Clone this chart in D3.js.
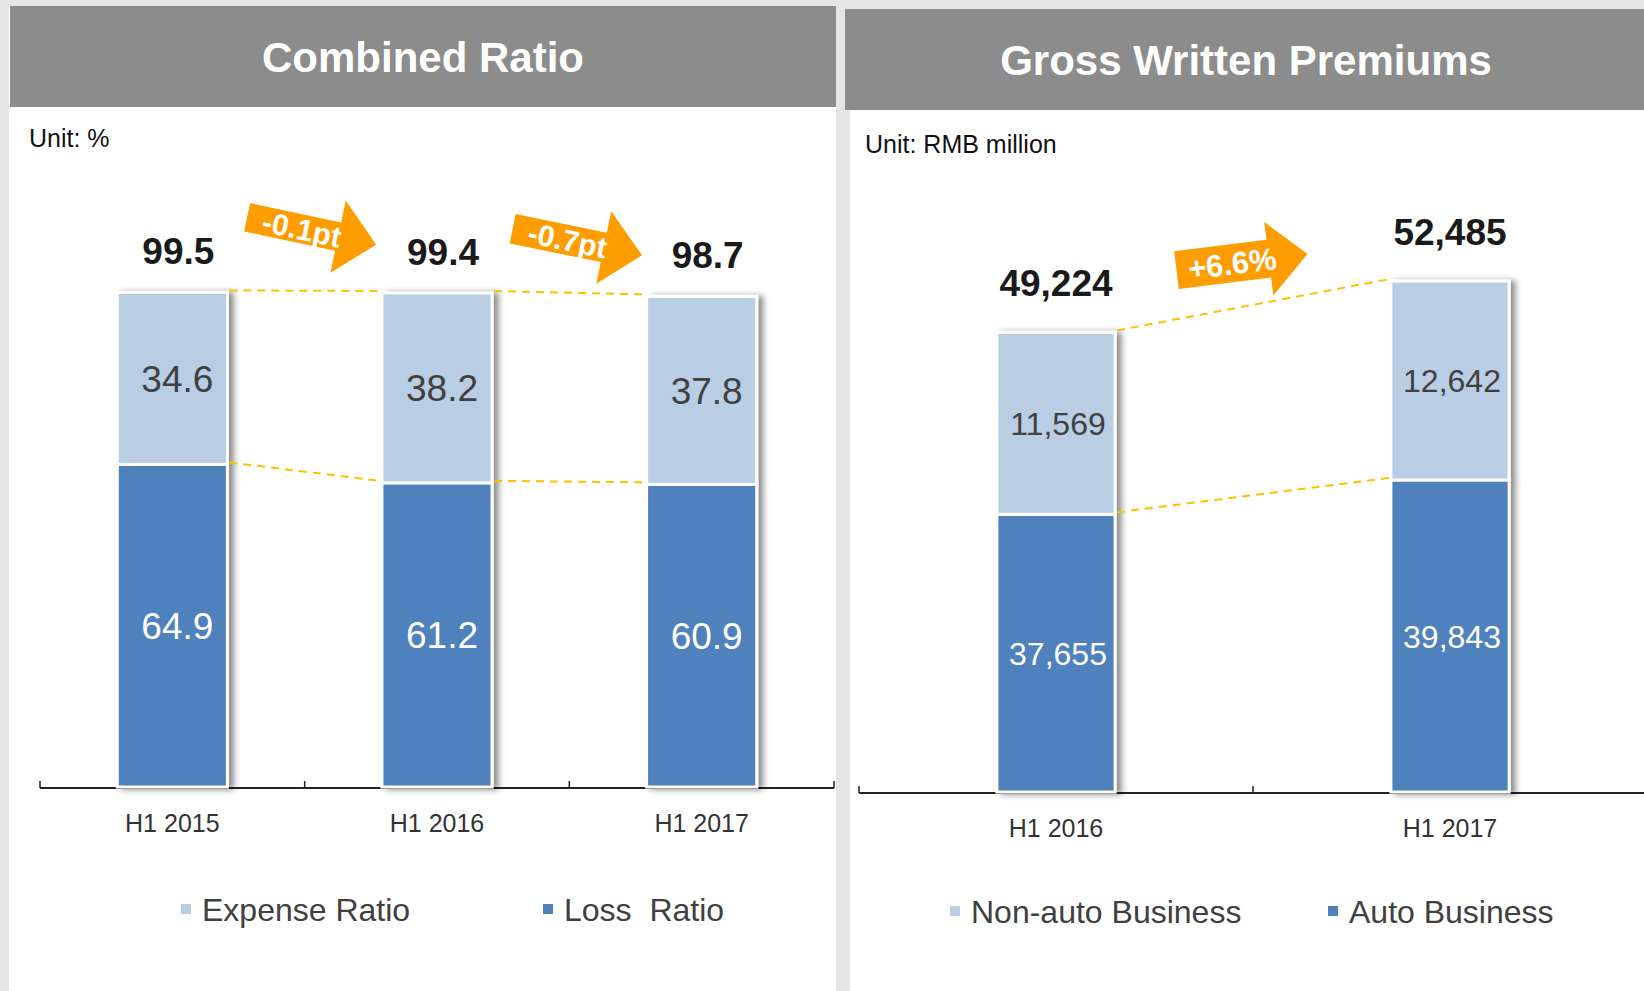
<!DOCTYPE html>
<html>
<head>
<meta charset="utf-8">
<script src="https://cdn.jsdelivr.net/npm/d3@7"></script>
<style>
  body { margin: 0; background: #e5e5e5; }
  svg { display: block; font-family: "Liberation Sans", Arial, sans-serif; }
</style>
</head>
<body>
<svg id="chart" width="1644" height="991"></svg>
<script>
// combined ratio data
var crCategories = ["H1 2015", "H1 2016", "H1 2017"];
var crExpense = [34.6, 38.2, 37.8];
var crLoss = [64.9, 61.2, 60.9];
var crTotals = [99.5, 99.4, 98.7];
var crChanges = ["-0.1pt", "-0.7pt"];

// gross written premiums data
var gwpCategories = ["H1 2016", "H1 2017"];
var gwpNonAuto = [11569, 12642];
var gwpAuto = [37655, 39843];
var gwpTotals = [49224, 52485];
var gwpChanges = ["+6.6%"];

var lightBlue = "#b9cde5", darkBlue = "#4f81bd", orange = "#ff9c00", dashColor = "#ffc000";

var svg = d3.select("#chart");

// shadow filter for bars
var defs = svg.append("defs");
var f = defs.append("filter").attr("id", "shadow").attr("x", "-20%").attr("y", "-10%").attr("width", "150%").attr("height", "130%");
f.append("feDropShadow").attr("dx", 5).attr("dy", 1).attr("stdDeviation", 3)
  .attr("flood-color", "#000").attr("flood-opacity", 0.45);

function drawPanel(p) {
  var g = svg.append("g");

  // panel + header
  g.append("rect").attr("x", p.panelX).attr("y", p.headerY).attr("width", p.panelW).attr("height", 991 - p.headerY).attr("fill", "#fff");
  g.append("rect").attr("x", p.headerX).attr("y", p.headerY).attr("width", p.headerW).attr("height", p.headerH).attr("fill", "#8c8c8c");
  g.append("text").attr("x", p.titleX).attr("y", p.headerY + p.headerH / 2 + 15)
    .attr("text-anchor", "middle").attr("fill", "#fff").attr("font-weight", "bold").attr("font-size", 42)
    .text(p.title);
  g.append("text").attr("x", p.unitX).attr("y", p.unitY).attr("font-size", 25).attr("fill", "#111").text(p.unit);

  var x = d3.scaleBand().domain(p.categories).range(p.xRange).padding(0);
  var y = d3.scaleLinear().domain(p.yDomain).range(p.yRange);
  var bw = x.bandwidth() * p.barFrac;
  var cx = function(c) { return x(c) + x.bandwidth() / 2; };
  var base = p.yRange[0];

  var rows = p.categories.map(function(c, i) {
    return { cat: c, low: p.low[i], high: p.high[i], total: p.totals[i] };
  });

  // axis baseline and boundary ticks
  var axisY = base + 1;
  g.append("line").attr("x1", p.xRange[0]).attr("x2", p.xRange[1]).attr("y1", axisY).attr("y2", axisY)
    .attr("stroke", "#222").attr("stroke-width", 2);
  var bounds = p.categories.map(function(c) { return x(c); }).concat([p.xRange[1]]);
  g.selectAll(".btick").data(bounds).join("line")
    .attr("x1", function(d) { return d; }).attr("x2", function(d) { return d; })
    .attr("y1", axisY - 7).attr("y2", axisY).attr("stroke", "#222").attr("stroke-width", 1.5);

  var xAxis = g.append("g").attr("transform", "translate(0," + axisY + ")")
    .call(d3.axisBottom(x).tickSize(0).tickPadding(26));
  xAxis.select(".domain").remove();
  xAxis.selectAll("text").attr("font-size", 25).attr("fill", "#333").attr("font-family", "Liberation Sans, Arial, sans-serif");

  // bars
  var bars = g.append("g").attr("filter", "url(#shadow)");
  bars.selectAll(".low").data(rows).join("rect")
    .attr("x", function(d) { return cx(d.cat) - bw / 2; })
    .attr("y", function(d) { return y(d.low); })
    .attr("width", bw)
    .attr("height", function(d) { return base - y(d.low); })
    .attr("fill", darkBlue).attr("stroke", "#fff").attr("stroke-width", 3);
  bars.selectAll(".high").data(rows).join("rect")
    .attr("x", function(d) { return cx(d.cat) - bw / 2; })
    .attr("y", function(d) { return y(d.total); })
    .attr("width", bw)
    .attr("height", function(d) { return y(d.low) - y(d.total); })
    .attr("fill", lightBlue).attr("stroke", "#fff").attr("stroke-width", 3);

  // segment labels
  g.selectAll(".lowLbl").data(rows).join("text")
    .attr("x", function(d) { return cx(d.cat) + p.segDx; })
    .attr("y", function(d) { return (base + y(d.low)) / 2; })
    .attr("dy", "0.36em").attr("text-anchor", "middle")
    .attr("font-size", p.segFont).attr("fill", "#fff")
    .text(function(d) { return p.fmt(d.low); });
  g.selectAll(".highLbl").data(rows).join("text")
    .attr("x", function(d) { return cx(d.cat) + p.segDx; })
    .attr("y", function(d) { return (y(d.low) + y(d.total)) / 2; })
    .attr("dy", "0.36em").attr("text-anchor", "middle")
    .attr("font-size", p.segFont).attr("fill", "#404040")
    .text(function(d) { return p.fmt(d.high); });

  // totals
  g.selectAll(".totLbl").data(rows).join("text")
    .attr("x", function(d) { return cx(d.cat) + p.totDx; })
    .attr("y", function(d) { return y(d.total) - p.totGap; })
    .attr("text-anchor", "middle").attr("font-size", 37).attr("font-weight", "bold").attr("fill", "#1a1a1a")
    .text(function(d) { return p.fmt(d.total); });

  // dashed connectors
  for (var i = 0; i < rows.length - 1; i++) {
    var a = rows[i], b = rows[i + 1];
    ["total", "low"].forEach(function(k) {
      g.append("line")
        .attr("x1", cx(a.cat) + bw / 2 + 2).attr("y1", y(a[k]) - 2)
        .attr("x2", cx(b.cat) - bw / 2 - 2).attr("y2", y(b[k]) - 2)
        .attr("stroke", dashColor).attr("stroke-width", 2).attr("stroke-dasharray", "8,6");
    });
  }

  // orange change arrows
  p.changes.forEach(function(txt, i) {
    var mid = (cx(p.categories[i]) + cx(p.categories[i + 1])) / 2;
    var ar = p.arrows[i];
    var hb = ar.body / 2;
    var pts = [[-66, -hb], [27, -hb], [27, -37], [66, 0], [27, 37], [27, hb], [-66, hb]];
    var ag = g.append("g").attr("transform", "translate(" + (mid + ar.dx) + "," + ar.y + ") rotate(" + ar.angle + ")");
    ag.append("polygon").attr("points", pts.map(function(q) { return q.join(","); }).join(" ")).attr("fill", orange);
    ag.append("text").attr("x", -10).attr("y", 0).attr("dy", "0.36em").attr("text-anchor", "middle")
      .attr("font-size", ar.font).attr("font-weight", "bold").attr("fill", "#fff").text(txt);
  });

  // legend
  p.legend.forEach(function(l) {
    g.append("rect").attr("x", l.x).attr("y", p.legendY - 5).attr("width", 10).attr("height", 10).attr("fill", l.color);
    g.append("text").attr("x", l.x + 21).attr("y", p.legendY).attr("dy", "0.36em")
      .attr("font-size", 32).attr("fill", "#404040").style("white-space", "pre").text(l.label);
  });
}

drawPanel({
  title: "Combined Ratio", unit: "Unit: %",
  panelX: 9, panelW: 827, headerX: 10, headerY: 6, headerW: 826, headerH: 101, titleX: 423,
  unitX: 29, unitY: 147,
  categories: crCategories, low: crLoss, high: crExpense, totals: crTotals, changes: crChanges,
  xRange: [40, 834], yDomain: [0, 100], yRange: [787, 290], barFrac: 0.416,
  segFont: 37, segDx: 5, totGap: 28, totDx: 6, fmt: d3.format(".1f"),
  arrows: [{ dx: 7, y: 231, angle: 12, body: 29, font: 30 }, { dx: 8, y: 242, angle: 11.6, body: 30, font: 30 }],
  legendY: 909,
  legend: [{ x: 181, color: lightBlue, label: "Expense Ratio" }, { x: 543, color: darkBlue, label: "Loss  Ratio" }]
});

drawPanel({
  title: "Gross Written Premiums", unit: "Unit: RMB million",
  panelX: 850, panelW: 794, headerX: 845, headerY: 9, headerW: 799, headerH: 101, titleX: 1246,
  unitX: 865, unitY: 153,
  categories: gwpCategories, low: gwpAuto, high: gwpNonAuto, totals: gwpTotals, changes: gwpChanges,
  xRange: [859, 1647], yDomain: [20000, 60000], yRange: [792, 163], barFrac: 0.30,
  segFont: 32, segDx: 2, totGap: 36, totDx: 0, fmt: d3.format(","),
  arrows: [{ dx: -11, y: 262, angle: -7, body: 38, font: 31 }],
  legendY: 911,
  legend: [{ x: 950, color: lightBlue, label: "Non-auto Business" }, { x: 1328, color: darkBlue, label: "Auto Business" }]
});
</script>
</body>
</html>
